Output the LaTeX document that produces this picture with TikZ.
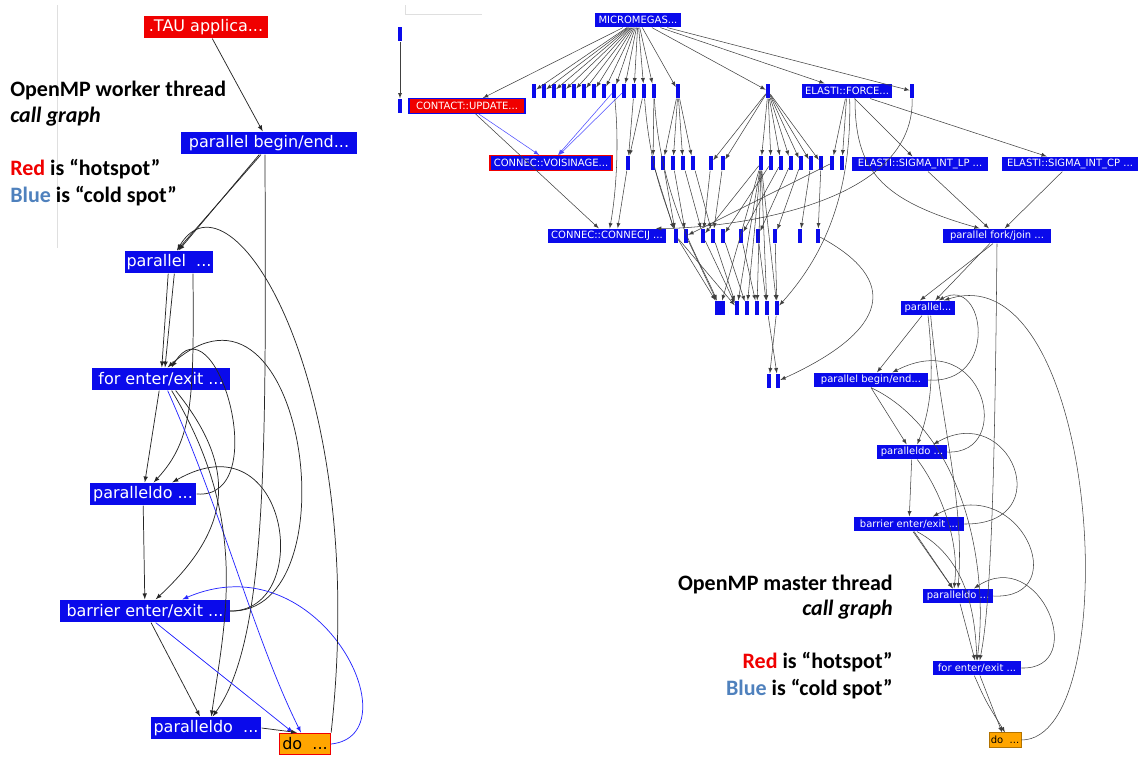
\documentclass[tikz,border=0pt]{standalone}
\usepackage{fontspec}
\setmainfont{Carlito}
\newfontfamily\javafont{DejaVu Sans}
\definecolor{fnblue}{RGB}{10,10,235}
\definecolor{hotred}{RGB}{240,0,0}
\definecolor{doorange}{RGB}{255,165,0}
\definecolor{legblue}{RGB}{79,129,189}

\begin{document}
\begin{tikzpicture}[x=0.75pt,y=-0.75pt,
  lfn/.style={fill=fnblue,text=white,font=\javafont\fontsize{12}{12}\selectfont,inner sep=0pt,minimum height=17pt},
  rfn/.style={fill=fnblue,text=white,font=\javafont\fontsize{7.5}{7.5}\selectfont,inner sep=0pt,minimum height=11pt},
  fbar/.style={fill=fnblue,inner sep=0pt,minimum width=3pt,minimum height=11pt},
  call/.style={-latex,black!85,line width=0.55pt},
  cold/.style={-latex,blue!85,line width=0.55pt},
  rcall/.style={-latex,black!75,line width=0.4pt},
  rcold/.style={-latex,blue!70,line width=0.4pt},
  note/.style={font=\bfseries\fontsize{16.5}{20}\selectfont,inner sep=0pt}]
   \useasboundingbox (0,0) rectangle (1138,757);
   \draw[gray!25] (57,5) -- (57,248);
   \draw[gray!25] (405,5) -- (405,14) -- (482,14);

   % worker thread
   \node[lfn,fill=hotred,minimum width=93pt] (tau) at (206,27) {.TAU applica...};
   \node[lfn,minimum width=132pt] (pbe) at (269,143) {parallel begin/end...};
   \node[lfn,minimum width=66pt] (par) at (169,262) {parallel\ \ ...};
   \node[lfn,minimum width=104pt] (for) at (161,379) {for enter/exit ...};
   \node[lfn,minimum width=80pt] (pdo1) at (143,494) {paralleldo ...};
   \node[lfn,minimum width=127pt] (bar1) at (145,611) {barrier enter/exit ...};
   \node[lfn,minimum width=83pt] (pdo2) at (206,728) {paralleldo\ \ ...};
   \node[lfn,fill=doorange,text=black,draw=hotred,line width=1.2pt,minimum width=38pt,minimum height=16pt] (do) at (305,744) {do\ \ ...};

   \node[note,anchor=base west] (wk1) at (10,96) {OpenMP worker thread};
   \node[note,anchor=base west] (wk2) at (10,122) {\itshape call graph};
   \node[note,anchor=base west] (wk3) at (10,175) {\textcolor{hotred}{Red} is “hotspot”};
   \node[note,anchor=base west] (wk4) at (10,202) {\textcolor{legblue}{Blue} is “cold spot”};

   \draw[call] (tau) -- (pbe);
   \draw[call] (pbe) -- (par);
   \draw[call] ([xshift=-6pt]pbe.south) -- ([xshift=6pt]par.north);
   \draw[call] ([xshift=-3pt]pbe.south) .. controls (266,450) and (268,640) .. ([xshift=5pt]pdo2.north);
   \draw[call] (par) -- (for);
   \draw[call] ([xshift=4pt]par.south) -- ([xshift=3pt]for.north);
   \draw[call] ([xshift=18pt]par.south) .. controls (194,400) and (193,440) .. ([xshift=8pt]pdo1.north);
   \draw[call] (for) -- (pdo1);
   \draw[cold] ([xshift=5pt]for.south) .. controls (225,520) and (255,640) .. ([xshift=-3pt]do.north);
   \draw[call] ([xshift=8pt]for.south) .. controls (250,520) and (225,620) .. ([xshift=4pt]pdo2.north);
   \draw[call] ([xshift=11pt]for.south) .. controls (240,470) and (230,530) .. ([xshift=8pt]bar1.north);
   \draw[call] (pdo1) -- (bar1);
   \draw[call] (bar1) -- (pdo2);
   \draw[cold] ([xshift=8pt]bar1.south) -- ([xshift=-9pt]do.north);
   \draw[call] (pdo2.east) -- ([xshift=-6pt]do.north);
   \draw[call] (pdo1.east) .. controls (275,500) and (215,295) .. ([xshift=8pt]for.north);
   \draw[call] (bar1.east) .. controls (355,615) and (305,245) .. ([xshift=5pt]for.north);
   \draw[call] (bar1.east) .. controls (315,612) and (290,415) .. ([xshift=22pt]pdo1.north);
   \draw[cold] (do.east) .. controls (415,735) and (320,540) .. ([xshift=28pt]bar1.north);
   \draw[call] (do.north east) .. controls (370,380) and (230,160) .. ([xshift=6pt]par.north);

   % master thread
   \node[rfn,minimum width=64.5pt] (mm) at (638,20) {MICROMEGAS...};
   \node[rfn,fill=hotred,draw=fnblue,line width=1pt,minimum width=87pt] (update) at (467,106) {CONTACT::UPDATE...};
   \node[rfn,draw=hotred,line width=1pt,minimum width=91.5pt] (vois) at (551,163) {CONNEC::VOISINAGE...};
   \node[rfn,minimum width=89pt] (connecij) at (607,236) {CONNEC::CONNECIJ ...};
   \node[rfn,minimum width=68pt] (force) at (847,91) {ELASTI::FORCE...};
   \node[rfn,minimum width=102pt] (siglp) at (920,164) {ELASTI::SIGMA\_INT\_LP ...};
   \node[rfn,minimum width=102pt] (sigcp) at (1070,164) {ELASTI::SIGMA\_INT\_CP ...};
   \node[rfn,minimum width=81pt] (fj) at (997,236) {parallel fork/join ...};
   \node[rfn,minimum width=40pt] (par2) at (928,308) {parallel...};
   \node[rfn,minimum width=85pt] (pbe2) at (871,380) {parallel begin/end...};
   \node[rfn,minimum width=52.5pt] (pdoa) at (912,452) {paralleldo ...};
   \node[rfn,minimum width=82.5pt] (bar2) at (909,524) {barrier enter/exit ...};
   \node[rfn,minimum width=52.5pt] (pdob) at (958,596) {paralleldo ...};
   \node[rfn,minimum width=66pt] (for2) at (977,668) {for enter/exit ...};
   \node[rfn,fill=doorange,text=black,draw=doorange!70!black,line width=0.4pt,minimum width=24pt] (do2) at (1005,740) {do\ \ ...};

   \node[fbar] (t0) at (400,34) {};
   \node[fbar] (t1) at (400,106) {};
   \foreach \x [count=\i] in {534,544,...,654} \node[fbar] (ra\i) at (\x,91) {};
   \node[fbar] (rx) at (678,91) {};
   \node[fbar] (ry) at (768,91) {};
   \node[fbar] (rz) at (912,91) {};
   \foreach \x [count=\i] in {628,653,663,673,683,693,711,723,761,771,781,791,801,811,821,832,842}
      \node[fbar] (rb\i) at (\x,163) {};
   \foreach \x [count=\i] in {676,686,703,713,723,741,758,775,800,818} \node[fbar] (rc\i) at (\x,236) {};
   \node[fbar,minimum width=7.5pt] (rd0) at (720,308) {};
   \foreach \x [count=\i] in {737,747,...,777} \node[fbar] (rd\i) at (\x,308) {};
   \node[fbar] (re1) at (769,381) {};
   \node[fbar] (re2) at (778,381) {};

   \node[note,anchor=base east] (ms1) at (893,590) {OpenMP master thread};
   \node[note,anchor=base east] (ms2) at (893,615) {\itshape call graph};
   \node[note,anchor=base east] (ms3) at (893,668) {\textcolor{hotred}{Red} is “hotspot”};
   \node[note,anchor=base east] (ms4) at (893,695) {\textcolor{legblue}{Blue} is “cold spot”};

   \foreach \i in {1,...,13} \draw[rcall] (mm) -- (ra\i);
   \foreach \n in {update,rx,ry,force,rz} \draw[rcall] (mm) -- (\n);
   \draw[rcall] (t0) -- (t1);
   \draw[rcold] (update) -- (vois);
   \draw[rcall] (update) -- (connecij);
   \draw[rcold] (ra9) -- (vois);
   \draw[rcold] (ra10) -- (vois);
   \draw[rcall] (ra9) .. controls (620,150) and (615,200) .. ([xshift=2pt]connecij.north);
   \draw[rcall] (ra11) -- (rb1);
   \draw[rcall] (ra12) -- (rb1);
   \draw[rcall] (ra13) -- (rb2);
   \draw[rcall] (ra12) .. controls (650,170) and (665,200) .. (rc1);
   \draw[rcall] (ra13) .. controls (660,200) and (700,260) .. (rd0);
   \foreach \j in {3,...,6} \draw[rcall] (rx) -- (rb\j);
   \foreach \j in {7,...,15} \draw[rcall] (ry) -- (rb\j);
   \foreach \n in {rb16,rb17,siglp,sigcp} \draw[rcall] (force) -- (\n);
   \draw[rcall] ([xshift=6pt]force.south) .. controls (855,170) and (880,200) .. ([xshift=-13pt]fj.north);
   \draw[rcall] ([xshift=2pt]force.south) .. controls (852,200) and (820,260) .. (rd5);
   \draw[rcall] (rz) .. controls (915,215) and (700,229) .. ([xshift=-8pt]connecij.north east);
   \draw[rcall] (siglp) -- (fj);
   \draw[rcall] (sigcp) -- (fj);
   \draw[rcall] (rb1) -- ([xshift=8pt]connecij.north);
   \draw[rcall] (rb2) -- (rc1);
   \draw[rcall] (rb3) -- (rc1);
   \draw[rcall] (rb4) -- (rc2);
   \draw[rcall] (rb5) -- (rc3);
   \draw[rcall] (rb6) -- (rc4);
   \draw[rcall] (rb7) -- (rc3);
   \draw[rcall] (rb8) -- (rc4);
   \foreach \j [evaluate=\j as \k using int(\j-5)] in {10,...,15} \draw[rcall] (rb\j) -- (rc\k);
   \draw[rcall] (rb16) -- (rc2);
   \foreach \k in {0,...,5} \draw[rcall] (rb9) -- (rd\k);
   \draw[rcall] (rb9) -- (rc3);
   \draw[rcall] (rc1) -- (rd0);
   \draw[rcall] (rc2) -- (rd0);
   \draw[rcall] (rc1) -- (rd1);
   \draw[rcall] (rc3) -- (rd1);
   \draw[rcall] (rc4) -- (rd1);
   \draw[rcall] (rc5) -- (rd2);
   \draw[rcall] (rc6) -- (rd3);
   \draw[rcall] (rc7) -- (rd4);
   \draw[rcall] (rc8) -- (rd5);
   \draw[rcall] (rd4) -- (re2);
   \draw[rcall] (rd5) -- (re1);
   \draw[rcall] (rc10) .. controls (900,280) and (890,330) .. (re2);

   \draw[rcall] (fj) -- (par2);
   \draw[rcall] ([xshift=-3pt]fj.south) -- ([xshift=-6pt]par2.north);
   \draw[rcall] (fj.south) .. controls (995,450) and (992,600) .. ([xshift=2pt]for2.north);
   \draw[rcall] (par2) -- (pbe2);
   \draw[rcall] (par2.south) .. controls (935,380) and (930,410) .. ([xshift=4pt]pdoa.north);
   \draw[rcall] ([xshift=2pt]par2.south) .. controls (940,420) and (965,500) .. (pdob.north);
   \draw[rcall] (pbe2.south) -- ([xshift=-4pt]pdoa.north);
   \draw[rcall] (pbe2.south) .. controls (960,430) and (990,560) .. (for2.north);
   \draw[rcall] (pdoa) -- (bar2);
   \draw[rcall] ([xshift=4pt]pdoa.south) .. controls (940,490) and (960,540) .. ([xshift=-3pt]pdob.north);
   \draw[rcall] (bar2) -- (pdob);
   \draw[rcall] ([xshift=3pt]bar2.south) -- ([xshift=-4pt]pdob.north);
   \draw[rcall] ([xshift=6pt]bar2.south) .. controls (970,560) and (975,620) .. (for2.north);
   \draw[rcall] (pdob) -- (for2);
   \draw[rcall] (for2) -- (do2);
   \draw[rcall] ([xshift=-2pt]for2.south) .. controls (985,700) .. (do2.north);
   \draw[rcall] (pbe2.east) .. controls (1000,385) and (985,275) .. ([xshift=8pt]par2.north);
   \draw[rcall] (pdoa.east) .. controls (1015,455) and (985,325) .. ([xshift=16pt]pbe2.north);
   \draw[rcall] (bar2.east) .. controls (1060,525) and (1010,400) .. ([xshift=16pt]pdoa.north);
   \draw[rcall] (pdob.east) .. controls (1075,600) and (1020,470) .. ([xshift=18pt]bar2.north);
   \draw[rcall] (for2.east) .. controls (1090,670) and (1040,545) .. ([xshift=12pt]pdob.north);
   \draw[rcall] (do2.east) .. controls (1128,740) and (1100,250) .. ([xshift=12pt]par2.north);
\end{tikzpicture}
\end{document}
